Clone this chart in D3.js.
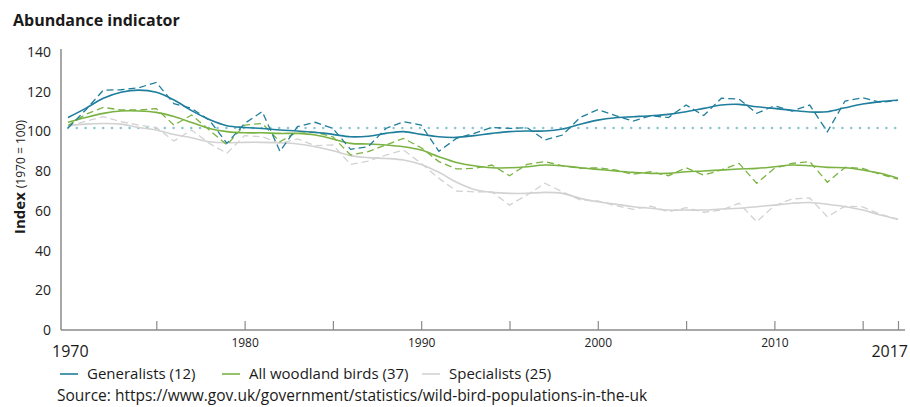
<!DOCTYPE html>
<html>
<head>
<meta charset="utf-8">
<script src="https://cdn.jsdelivr.net/npm/d3@7"></script>
<style>
  html, body { margin: 0; padding: 0; background: #fff; }
  svg { display: block; font-family: "Open Sans", "Noto Sans", sans-serif; }
</style>
</head>
<body>
<svg id="chart" width="910" height="407"></svg>
<script>
const years = [1970,1971,1972,1973,1974,1975,1976,1977,1978,1979,
  1980,1981,1982,1983,1984,1985,1986,1987,1988,1989,
  1990,1991,1992,1993,1994,1995,1996,1997,1998,1999,
  2000,2001,2002,2003,2004,2005,2006,2007,2008,2009,
  2010,2011,2012,2013,2014,2015,2016,2017];

const generalistsAnnual = [101.7,110.8,120.8,121,122,124.7,114,111.6,105.7,94,
  104,110,90,102.4,104.6,101.5,91,92.3,101.5,104.9,
  103.2,90,96.5,99,102,101.5,101.9,95.7,98.2,107,
  111,108,105.2,107.9,107,113.3,108,116.7,116.3,109.1,
  112.9,110.3,113.3,99.8,115.3,117,114.6,115.7];
const generalistsTrend = [107,111.6,116.7,119.7,120.8,119.7,115.8,110.5,106,102.9,
  102,101.5,100.7,100.2,99.5,98.5,97.3,97.6,99,99.9,
  98.5,97.3,97,97.9,99,99.9,100.2,100.2,101.2,103.6,
  105.7,106.9,107.4,107.9,108.6,109.9,111.6,113.3,113.6,112.4,
  111.6,110.6,109.8,109.9,111.9,113.8,115,115.7];

const woodlandAnnual = [103,108.6,112.1,110.8,110.8,111.5,103.2,108.3,100.7,93.2,
  103.2,104,94.8,99.9,99.5,97.3,88.1,89.8,93.2,96.5,
  91.8,84.8,81.1,81.4,83.1,77.7,83.4,84.8,82.7,81.4,
  81.7,80.6,78.4,79.7,77.7,81.7,78,80.6,83.9,73.9,
  81.4,83.9,84.8,74.4,81.9,81.4,78.4,76];
const woodlandTrend = [104.6,107,109.1,110.3,110.3,109.6,107.5,104.5,101.5,99.9,
  99.3,99.3,99,99,98.2,96.2,94,93.7,93.2,92.3,
  90.6,87.3,84.4,82.7,81.7,81.7,82.2,83.1,82.7,81.7,
  80.9,80.1,79.4,78.9,78.9,79.7,80.1,80.6,81.1,81.4,
  82.2,83.1,82.7,81.9,81.7,80.6,78.9,76.4];

const specialistsAnnual = [102.4,105.2,107.4,104.9,103.2,101.9,95.2,100.7,94,89,
  97.9,97.3,94,96.2,92.8,93.2,83.4,85.1,88.1,90.6,
  83.9,76.4,70,69.6,69.6,62.9,68,73.9,69.6,65.5,
  65,62.6,60.8,62.4,59.6,61.6,59.3,60.4,63.8,54.5,
  62.6,66,66.5,57,62.4,62,58.3,55.7];
const specialistsTrend = [102.9,103.7,104,103.7,102,100.7,98.5,96.8,94.8,94.3,
  94.5,94.5,94.3,93.7,92.3,90.3,87.8,86.8,86.4,85.6,
  83.4,79.4,74.4,70.8,69.3,68.8,68.8,69.3,68.8,66.3,
  64.6,63.4,62.1,61.3,60.4,60.4,60.4,60.9,61.3,62.1,
  62.9,63.8,64.2,63.3,62.1,60.4,57.9,55.7];

const referenceLevel = 101.7;

const yTicks = [0,20,40,60,80,100,120,140];
const xTickYears = [1975,1980,1985,1990,1995,2000,2005,2010,2015,2017];
const xSmallLabels = [1980,1990,2000,2010];
const xBigLabels = [1970,2017];

const seriesNames = ["Generalists (12)", "All woodland birds (37)", "Specialists (25)"];
const seriesColors = ["#1f7e9c", "#7ab342", "#d2d2d2"];

const svg = d3.select("#chart");
const axisX0 = 61, axisY0 = 330;
const x = d3.scaleLinear().domain([1970, 2017]).range([68, 898]);
const y = d3.scaleLinear().domain([0, 140]).range([330, 52]);

// title
svg.append("text").attr("x", 13).attr("y", 26)
  .attr("font-size", 16).attr("font-weight", 700).attr("fill", "#1a1a1a")
  .text("Abundance indicator");

// y axis title
const yt = svg.append("text")
  .attr("transform", "translate(25,177) rotate(-90)")
  .attr("text-anchor", "middle").attr("fill", "#1a1a1a");
yt.append("tspan").attr("font-size", 15).attr("font-weight", 700).text("Index");
yt.append("tspan").attr("font-size", 12).attr("dx", 4).text("(1970 = 100)");

// y axis
const yAxis = svg.append("g").attr("transform", `translate(${axisX0},0)`)
  .call(d3.axisLeft(y).tickValues(yTicks).tickSize(0).tickPadding(10));
yAxis.select(".domain").remove();
yAxis.selectAll("text").attr("font-size", 14).attr("fill", "#222")
  .attr("font-family", "Open Sans, Noto Sans, sans-serif");
svg.append("line").attr("x1", axisX0).attr("x2", axisX0).attr("y1", 49).attr("y2", axisY0)
  .attr("stroke", "#8a8a8a").attr("stroke-width", 1.5);

// x axis
const xAxis = svg.append("g").attr("transform", `translate(0,${axisY0})`)
  .call(d3.axisBottom(x).tickValues(xTickYears).tickSizeInner(-9).tickSizeOuter(0)
    .tickFormat(d => xSmallLabels.includes(d) ? String(d) : ""));
xAxis.select(".domain").remove();
xAxis.selectAll(".tick line").attr("stroke", "#8a8a8a").attr("stroke-width", 1.2);
xAxis.selectAll(".tick text").attr("font-size", 12).attr("fill", "#222")
  .attr("font-family", "Open Sans, Noto Sans, sans-serif").attr("y", 13).attr("dy", "0.32em");
svg.append("line").attr("x1", axisX0).attr("x2", 905).attr("y1", axisY0).attr("y2", axisY0)
  .attr("stroke", "#8a8a8a").attr("stroke-width", 1.5);
svg.append("text").attr("x", x(xBigLabels[0]) - 16).attr("y", 357)
  .attr("font-size", 16).attr("fill", "#1a1a1a").text(String(xBigLabels[0]));
svg.append("text").attr("x", 908).attr("y", 357).attr("text-anchor", "end")
  .attr("font-size", 16).attr("fill", "#1a1a1a").text(String(xBigLabels[1]));

// reference line
svg.append("line").attr("x1", x(1970)).attr("x2", x(2017))
  .attr("y1", y(referenceLevel)).attr("y2", y(referenceLevel))
  .attr("stroke", "#8cc6d6").attr("stroke-width", 2.6)
  .attr("stroke-linecap", "round").attr("stroke-dasharray", "0,8.8");

const annualLine = d3.line().x((d, i) => x(years[i])).y(d => y(d));
const trendLine = d3.line().x((d, i) => x(years[i])).y(d => y(d)).curve(d3.curveCatmullRom.alpha(0.5));

const series = [
  {annual: specialistsAnnual, trend: specialistsTrend, color: seriesColors[2]},
  {annual: woodlandAnnual, trend: woodlandTrend, color: seriesColors[1]},
  {annual: generalistsAnnual, trend: generalistsTrend, color: seriesColors[0]}
];
series.forEach(s => {
  svg.append("path").attr("d", annualLine(s.annual)).attr("fill", "none")
    .attr("stroke", s.color).attr("stroke-width", 1.3).attr("stroke-dasharray", "7,4");
  svg.append("path").attr("d", trendLine(s.trend)).attr("fill", "none")
    .attr("stroke", s.color).attr("stroke-width", 1.6);
});

// legend
const legendX = [60, 222, 422];
seriesNames.forEach((name, i) => {
  svg.append("line").attr("x1", legendX[i]).attr("x2", legendX[i] + 18)
    .attr("y1", 374).attr("y2", 374).attr("stroke", seriesColors[i]).attr("stroke-width", 1.6);
  svg.append("text").attr("x", legendX[i] + 27).attr("y", 379)
    .attr("font-size", 15).attr("fill", "#1a1a1a").text(name);
});

// source
svg.append("text").attr("x", 57).attr("y", 401).attr("font-size", 15.5).attr("fill", "#1a1a1a")
  .text("Source: https://www.gov.uk/government/statistics/wild-bird-populations-in-the-uk");
</script>
</body>
</html>
